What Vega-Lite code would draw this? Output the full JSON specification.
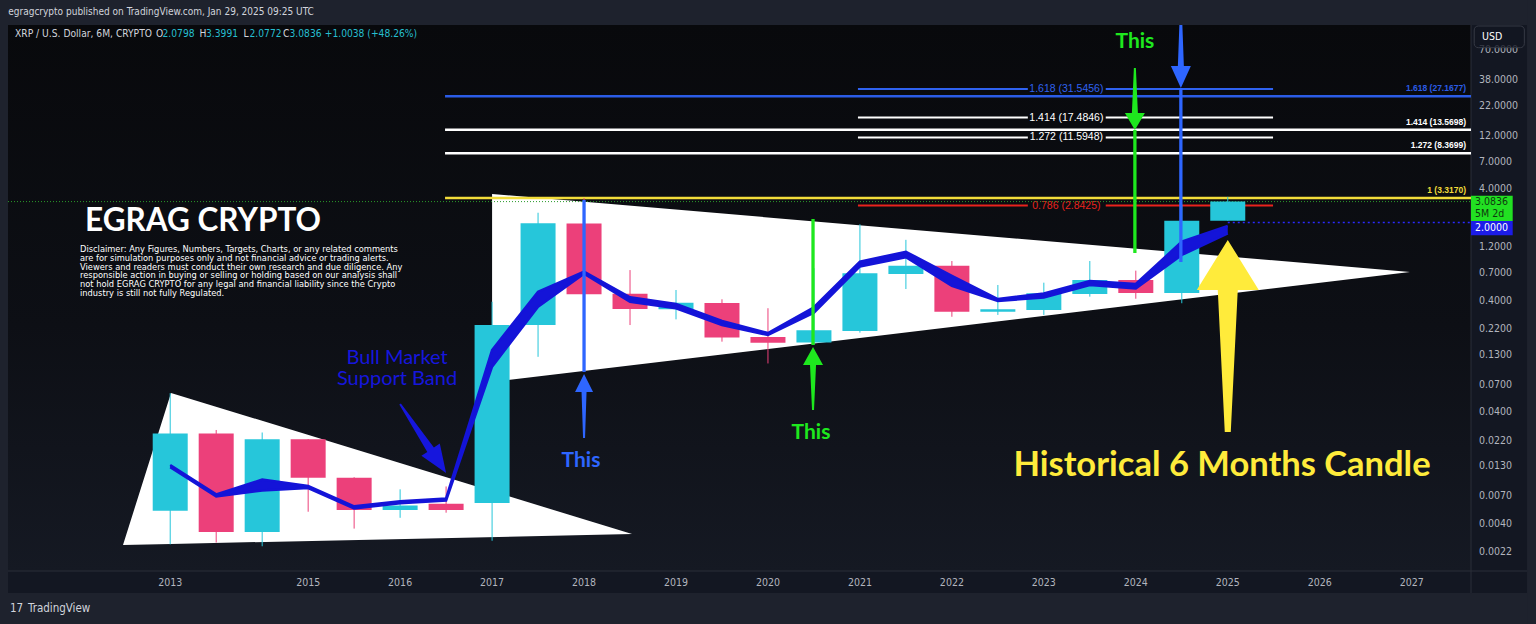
{
  "$schema": "https://vega.github.io/schema/vega-lite/v6.json",
  "width": 1463,
  "height": 546,
  "autosize": {"type": "none"},
  "padding": {"left": 8, "top": 25, "right": 65, "bottom": 53},
  "background": "#131722",
  "config": {"view": {"stroke": null}},
  "datasets": {
    "one": [{}],
    "candles": [
      {"bar": 1, "period": "2013 H2", "open": 0.0052, "high": 0.059, "low": 0.0026, "close": 0.0257, "band_hi": 0.0134, "band_lo": 0.0128},
      {"bar": 2, "period": "2014 H1", "open": 0.0257, "high": 0.0276, "low": 0.0027, "close": 0.00335, "band_hi": 0.0073, "band_lo": 0.007},
      {"bar": 3, "period": "2014 H2", "open": 0.00335, "high": 0.0262, "low": 0.0025, "close": 0.0228, "band_hi": 0.0099, "band_lo": 0.0079},
      {"bar": 4, "period": "2015 H1", "open": 0.0228, "high": 0.0229, "low": 0.0051, "close": 0.0103, "band_hi": 0.00868, "band_lo": 0.00833},
      {"bar": 5, "period": "2015 H2", "open": 0.0103, "high": 0.0104, "low": 0.0036, "close": 0.0053, "band_hi": 0.0057, "band_lo": 0.00546},
      {"bar": 6, "period": "2016 H1", "open": 0.0053, "high": 0.0081, "low": 0.0045, "close": 0.0058, "band_hi": 0.00634, "band_lo": 0.00609},
      {"bar": 7, "period": "2016 H2", "open": 0.006, "high": 0.0086, "low": 0.005, "close": 0.0053, "band_hi": 0.00671, "band_lo": 0.00643},
      {"bar": 8, "period": "2017 H1", "open": 0.0061, "high": 0.39, "low": 0.0028, "close": 0.241, "band_hi": 0.144, "band_lo": 0.102},
      {"bar": 9, "period": "2017 H2", "open": 0.241, "high": 2.45, "low": 0.125, "close": 1.97, "band_hi": 0.48, "band_lo": 0.352},
      {"bar": 10, "period": "2018 H1", "open": 1.96, "high": 3.317, "low": 0.43, "close": 0.455, "band_hi": 0.725, "band_lo": 0.696},
      {"bar": 11, "period": "2018 H2", "open": 0.46, "high": 0.75, "low": 0.241, "close": 0.336, "band_hi": 0.4275, "band_lo": 0.39},
      {"bar": 12, "period": "2019 H1", "open": 0.334, "high": 0.497, "low": 0.271, "close": 0.382, "band_hi": 0.372, "band_lo": 0.341},
      {"bar": 13, "period": "2019 H2", "open": 0.38, "high": 0.41, "low": 0.171, "close": 0.186, "band_hi": 0.262, "band_lo": 0.241},
      {"bar": 14, "period": "2020 H1", "open": 0.1885, "high": 0.341, "low": 0.109, "close": 0.167, "band_hi": 0.2044, "band_lo": 0.1962},
      {"bar": 15, "period": "2020 H2", "open": 0.168, "high": 0.78, "low": 0.16, "close": 0.216, "band_hi": 0.348, "band_lo": 0.311},
      {"bar": 16, "period": "2021 H1", "open": 0.213, "high": 1.93, "low": 0.206, "close": 0.702, "band_hi": 0.892, "band_lo": 0.808},
      {"bar": 17, "period": "2021 H2", "open": 0.69, "high": 1.4, "low": 0.507, "close": 0.821, "band_hi": 1.096, "band_lo": 0.977},
      {"bar": 18, "period": "2022 H1", "open": 0.82, "high": 0.904, "low": 0.286, "close": 0.3175, "band_hi": 0.664, "band_lo": 0.54},
      {"bar": 19, "period": "2022 H2", "open": 0.3175, "high": 0.551, "low": 0.297, "close": 0.334, "band_hi": 0.4127, "band_lo": 0.396},
      {"bar": 20, "period": "2023 H1", "open": 0.329, "high": 0.578, "low": 0.297, "close": 0.464, "band_hi": 0.462, "band_lo": 0.426},
      {"bar": 21, "period": "2023 H2", "open": 0.458, "high": 0.904, "low": 0.433, "close": 0.611, "band_hi": 0.599, "band_lo": 0.551},
      {"bar": 22, "period": "2024 H1", "open": 0.611, "high": 0.741, "low": 0.415, "close": 0.468, "band_hi": 0.562, "band_lo": 0.513},
      {"bar": 23, "period": "2024 H2", "open": 0.468, "high": 2.9, "low": 0.378, "close": 2.079, "band_hi": 1.348, "band_lo": 1.024},
      {"bar": 24, "period": "2025 H1", "open": 2.0798, "high": 3.3991, "low": 2.0772, "close": 3.0836, "band_hi": 1.864, "band_lo": 1.602}
    ],
    "price_ticks": [
      {"tick": 70}, {"tick": 38}, {"tick": 22}, {"tick": 12}, {"tick": 7}, {"tick": 4},
      {"tick": 1.2}, {"tick": 0.7}, {"tick": 0.4}, {"tick": 0.22}, {"tick": 0.13}, {"tick": 0.07},
      {"tick": 0.04}, {"tick": 0.022}, {"tick": 0.013}, {"tick": 0.007}, {"tick": 0.004}, {"tick": 0.0022}
    ],
    "year_ticks": [
      {"bar": 1, "year": "2013"}, {"bar": 4, "year": "2015"}, {"bar": 6, "year": "2016"}, {"bar": 8, "year": "2017"},
      {"bar": 10, "year": "2018"}, {"bar": 12, "year": "2019"}, {"bar": 14, "year": "2020"}, {"bar": 16, "year": "2021"},
      {"bar": 18, "year": "2022"}, {"bar": 20, "year": "2023"}, {"bar": 22, "year": "2024"}, {"bar": 24, "year": "2025"},
      {"bar": 26, "year": "2026"}, {"bar": 28, "year": "2027"}
    ],
    "wedge_2013": [
      {"i": -0.027, "top": 0.002567, "bottom": 0.002567},
      {"i": 1.017, "top": 0.05924, "bottom": 0.002623},
      {"i": 11.044, "top": 0.003221, "bottom": 0.003221}
    ],
    "wedge_2017": [
      {"i": 8.0, "top": 3.609, "bottom": 0.0743},
      {"i": 27.964, "top": 0.7208, "bottom": 0.7208}
    ],
    "fib_long": [
      {"level": "1.618 long", "price": 27.1677, "label": "1.618 (27.1677)", "start": 6.977, "end": 29.29},
      {"level": "1.414 long", "price": 13.5698, "label": "1.414 (13.5698)", "start": 6.977, "end": 29.29},
      {"level": "1.272 long", "price": 8.3699, "label": "1.272 (8.3699)", "start": 6.977, "end": 29.29},
      {"level": "1 long", "price": 3.317, "label": "1 (3.3170)", "start": 6.977, "end": 29.29}
    ],
    "fib_short": [
      {"level": "1.618", "price": 31.5456, "label": "1.618 (31.5456)", "start": 15.957, "gap_l": 19.652, "gap_r": 21.346, "end": 24.985},
      {"level": "1.414", "price": 17.4846, "label": "1.414 (17.4846)", "start": 15.957, "gap_l": 19.652, "gap_r": 21.346, "end": 24.985},
      {"level": "1.272", "price": 11.5948, "label": "1.272 (11.5948)", "start": 15.957, "gap_l": 19.652, "gap_r": 21.346, "end": 24.985},
      {"level": "0.786", "price": 2.8425, "label": "0.786 (2.8425)", "start": 15.957, "gap_l": 19.652, "gap_r": 21.346, "end": 24.985}
    ],
    "vlines": [
      {"ref": "this_2018", "i": 10.0, "top": 3.19, "bottom": 0.0914},
      {"ref": "this_2020", "i": 14.98, "top": 2.153, "bottom": 0.1596},
      {"ref": "this_2024_top", "i": 21.98, "top": 13.53, "bottom": 1.067},
      {"ref": "this_2024_blue", "i": 22.98, "top": 32.2, "bottom": 0.886}
    ],
    "arrows": [
      {"ref": "this_2018", "i": 10.0, "price": 0.0877},
      {"ref": "this_2020", "i": 14.98, "price": 0.1532},
      {"ref": "this_2024_top", "i": 21.98, "price": 13.53},
      {"ref": "this_2024_blue", "i": 22.98, "price": 32.2},
      {"ref": "historical", "i": 24.0, "price": 1.396},
      {"ref": "support_band", "i": 7.0, "price": 0.01135}
    ],
    "this_labels": [
      {"text": "This", "i": 9.934, "price": 0.01455, "ref": "this_2018"},
      {"text": "This", "i": 14.936, "price": 0.02594, "ref": "this_2020"},
      {"text": "This", "i": 21.98, "price": 83.3, "ref": "this_2024_top"}
    ],
    "headline": [
      {"text": "Historical 6 Months Candle", "i": 23.875, "price": 0.01311, "ref": "historical"}
    ],
    "band_label": [
      {"text": "Bull Market", "i": 5.933, "price": 0.122, "ref": "support_band"},
      {"text": "Support Band", "i": 5.933, "price": 0.0791, "ref": "support_band"}
    ],
    "brand": [{"text": "EGRAG CRYPTO", "i": -0.853, "price": 2.024}],
    "disclaimer": [{"text": "Disclaimer: Any Figures, Numbers, Targets, Charts, or any related comments\nare for simulation purposes only and not financial advice or trading alerts.\nViewers and readers must conduct their own research and due diligence. Any\nresponsible action in buying or selling or holding based on our analysis shall\nnot hold EGRAG CRYPTO for any legal and financial liability since the Crypto\nindustry is still not fully Regulated.", "i": -0.962, "price": 1.259}],
    "legend": [
      {"text": "XRP / U.S. Dollar, 6M, CRYPTO", "i": -2.375, "price": 98.3, "part": "label"},
      {"text": "O", "i": 0.691, "price": 98.3, "part": "label"},
      {"text": "2.0798", "i": 0.8325, "price": 98.3, "part": "value"},
      {"text": "H", "i": 1.637, "price": 98.3, "part": "label"},
      {"text": "3.3991", "i": 1.7786, "price": 98.3, "part": "value"},
      {"text": "L", "i": 2.594, "price": 98.3, "part": "label"},
      {"text": "2.0772", "i": 2.7247, "price": 98.3, "part": "value"},
      {"text": "C", "i": 3.453, "price": 98.3, "part": "label"},
      {"text": "3.0836", "i": 3.5946, "price": 98.3, "part": "value"},
      {"text": "+1.0038 (+48.26%)", "i": 4.36, "price": 98.3, "part": "value"}
    ],
    "header": [{"text": "egragcrypto published on TradingView.com, Jan 29, 2025 09:25 UTC", "i": -2.523, "price": 154.8}],
    "footer": [
      {"text": "17", "i": -2.484, "price": 0.000684, "part": "logo"},
      {"text": "TradingView", "i": -2.093, "price": 0.000684, "part": "name"}
    ],
    "tags": [
      {"text": "3.0836", "i": 29.378, "price": 3.058, "part": "last"},
      {"text": "5M 2d", "i": 29.378, "price": 2.388, "part": "last"},
      {"text": "2.0000", "i": 29.378, "price": 1.77, "part": "support"},
      {"text": "USD", "i": 29.53, "price": 92.4, "part": "button"}
    ]
  },
  "layer": [
    {
      "data": {"name": "candles"},
      "mark": {"type": "rule", "opacity": 0},
      "encoding": {
        "x": {"field": "bar", "type": "quantitative", "scale": {"domain": [-2.528, 29.29], "nice": false, "zero": false, "padding": 0}, "axis": null},
        "y": {"field": "low", "type": "quantitative", "scale": {"type": "log", "domain": [0.0015, 118.3], "nice": false}, "axis": null}
      }
    },
    {
      "data": {"name": "one"},
      "mark": {"type": "rect", "color": {"gradient": "linear", "x1": 0, "y1": 0, "x2": 0, "y2": 1, "stops": [{"offset": 0, "color": "#08090c"}, {"offset": 0.55, "color": "#0d0f15"}, {"offset": 1, "color": "#151923"}]}},
      "encoding": {
        "x": {"datum": -2.528, "type": "quantitative", "axis": null},
        "x2": {"datum": 29.29},
        "y": {"datum": 118.3, "type": "quantitative", "axis": null},
        "y2": {"datum": 0.0015}
      }
    },
    {
      "data": {"name": "one"},
      "mark": {"type": "rect", "color": "#1e222d"},
      "encoding": {
        "x": {"datum": -2.75, "type": "quantitative", "axis": null},
        "x2": {"datum": 30.8},
        "y": {"datum": 230, "type": "quantitative", "axis": null},
        "y2": {"datum": 118.3}
      }
    },
    {
      "data": {"name": "one"},
      "mark": {"type": "rect", "color": "#1e222d"},
      "encoding": {
        "x": {"datum": -2.75, "type": "quantitative", "axis": null},
        "x2": {"datum": 30.8},
        "y": {"datum": 0.000952, "type": "quantitative", "axis": null},
        "y2": {"datum": 0.0003}
      }
    },
    {
      "data": {"name": "one"},
      "mark": {"type": "rect", "color": "#1e222d"},
      "encoding": {
        "x": {"datum": -2.75, "type": "quantitative", "axis": null},
        "x2": {"datum": -2.528},
        "y": {"datum": 230, "type": "quantitative", "axis": null},
        "y2": {"datum": 0.0003}
      }
    },
    {
      "data": {"name": "one"},
      "mark": {"type": "rect", "color": "#1e222d"},
      "encoding": {
        "x": {"datum": 30.508, "type": "quantitative", "axis": null},
        "x2": {"datum": 30.8},
        "y": {"datum": 230, "type": "quantitative", "axis": null},
        "y2": {"datum": 0.0003}
      }
    },
    {
      "data": {"name": "one"},
      "mark": {"type": "rule", "color": "#2a2e39", "strokeWidth": 1},
      "encoding": {
        "x": {"datum": -2.528, "type": "quantitative", "axis": null},
        "x2": {"datum": 30.508},
        "y": {"datum": 0.0015, "type": "quantitative", "axis": null}
      }
    },
    {
      "data": {"name": "one"},
      "mark": {"type": "rule", "color": "#2a2e39", "strokeWidth": 1},
      "encoding": {
        "x": {"datum": 29.29, "type": "quantitative", "axis": null},
        "y": {"datum": 118.3, "type": "quantitative", "axis": null},
        "y2": {"datum": 0.000952}
      }
    },
    {
      "data": {"name": "price_ticks"},
      "mark": {"type": "text", "align": "left", "baseline": "middle", "fontSize": 10.5, "font": "Liberation Sans Narrow, DejaVu Sans Condensed, Liberation Sans", "color": "#b2b5be"},
      "encoding": {
        "x": {"datum": 29.465, "type": "quantitative", "axis": null},
        "y": {"field": "tick", "type": "quantitative", "axis": null},
        "text": {"field": "tick", "type": "quantitative", "format": ".4f"}
      }
    },
    {
      "data": {"name": "year_ticks"},
      "mark": {"type": "text", "align": "center", "baseline": "middle", "fontSize": 10.5, "font": "Liberation Sans Narrow, DejaVu Sans Condensed, Liberation Sans", "color": "#b2b5be"},
      "encoding": {
        "x": {"field": "bar", "type": "quantitative", "axis": null},
        "y": {"datum": 0.001171, "type": "quantitative", "axis": null},
        "text": {"field": "year"}
      }
    },
    {
      "data": {"name": "wedge_2013"},
      "mark": {"type": "area", "color": "#ffffff", "opacity": 1, "interpolate": "linear"},
      "encoding": {
        "x": {"field": "i", "type": "quantitative", "axis": null},
        "y": {"field": "top", "type": "quantitative", "axis": null},
        "y2": {"field": "bottom"}
      }
    },
    {
      "data": {"name": "wedge_2017"},
      "mark": {"type": "area", "color": "#ffffff", "opacity": 1, "interpolate": "linear"},
      "encoding": {
        "x": {"field": "i", "type": "quantitative", "axis": null},
        "y": {"field": "top", "type": "quantitative", "axis": null},
        "y2": {"field": "bottom"}
      }
    },
    {
      "data": {"name": "fib_long"},
      "mark": {"type": "rule", "strokeWidth": 2.5},
      "encoding": {
        "x": {"field": "start", "type": "quantitative", "axis": null},
        "x2": {"field": "end"},
        "y": {"field": "price", "type": "quantitative", "axis": null},
        "color": {"field": "level", "type": "nominal", "legend": null, "scale": {"domain": ["1.618 long", "1.414 long", "1.272 long", "1 long", "1.618", "1.414", "1.272", "0.786", "this_2018", "this_2020", "this_2024_top", "this_2024_blue", "historical", "support_band"], "range": ["#2b5ce6", "#ffffff", "#ffffff", "#f2dc3a", "#2f62f0", "#ffffff", "#ffffff", "#e8231c", "#2e66ff", "#1ee81e", "#1ee81e", "#2e66ff", "#ffeb3b", "#1616dd"]}}
      }
    },
    {
      "data": {"name": "fib_long"},
      "mark": {"type": "text", "align": "right", "baseline": "middle", "dy": -8, "fontSize": 8.5, "fontWeight": "bold", "font": "Liberation Sans"},
      "encoding": {
        "x": {"datum": 29.181, "type": "quantitative", "axis": null},
        "y": {"field": "price", "type": "quantitative", "axis": null},
        "text": {"field": "label"},
        "color": {"field": "level", "type": "nominal", "legend": null}
      }
    },
    {
      "data": {"name": "fib_short"},
      "mark": {"type": "rule", "strokeWidth": 2},
      "encoding": {
        "x": {"field": "start", "type": "quantitative", "axis": null},
        "x2": {"field": "gap_l"},
        "y": {"field": "price", "type": "quantitative", "axis": null},
        "color": {"field": "level", "type": "nominal", "legend": null}
      }
    },
    {
      "data": {"name": "fib_short"},
      "mark": {"type": "rule", "strokeWidth": 2},
      "encoding": {
        "x": {"field": "gap_r", "type": "quantitative", "axis": null},
        "x2": {"field": "end"},
        "y": {"field": "price", "type": "quantitative", "axis": null},
        "color": {"field": "level", "type": "nominal", "legend": null}
      }
    },
    {
      "data": {"name": "fib_short"},
      "mark": {"type": "text", "align": "center", "baseline": "middle", "fontSize": 10.5, "font": "Liberation Sans"},
      "encoding": {
        "x": {"datum": 20.49, "type": "quantitative", "axis": null},
        "y": {"field": "price", "type": "quantitative", "axis": null},
        "text": {"field": "label"},
        "color": {"field": "level", "type": "nominal", "legend": null}
      }
    },
    {
      "data": {"name": "one"},
      "mark": {"type": "rule", "color": "#2a9a2a", "strokeWidth": 1, "strokeDash": [1, 2]},
      "encoding": {
        "x": {"datum": -2.528, "type": "quantitative", "axis": null},
        "x2": {"datum": 29.29},
        "y": {"datum": 3.0836, "type": "quantitative", "axis": null}
      }
    },
    {
      "data": {"name": "one"},
      "mark": {"type": "rule", "color": "#2a2aff", "strokeWidth": 1.5, "strokeDash": [2, 3]},
      "encoding": {
        "x": {"datum": 24.0, "type": "quantitative", "axis": null},
        "x2": {"datum": 29.29},
        "y": {"datum": 2.0, "type": "quantitative", "axis": null}
      }
    },
    {
      "data": {"name": "candles"},
      "mark": {"type": "rule", "strokeWidth": 1},
      "encoding": {
        "x": {"field": "bar", "type": "quantitative", "axis": null},
        "y": {"field": "low", "type": "quantitative", "axis": null},
        "y2": {"field": "high"},
        "color": {"condition": {"test": "datum.close >= datum.open", "value": "#26c6da"}, "value": "#ec407a"}
      }
    },
    {
      "data": {"name": "candles"},
      "mark": {"type": "bar", "width": 35},
      "encoding": {
        "x": {"field": "bar", "type": "quantitative", "axis": null},
        "y": {"field": "open", "type": "quantitative", "axis": null},
        "y2": {"field": "close"},
        "color": {"condition": {"test": "datum.close >= datum.open", "value": "#26c6da"}, "value": "#ec407a"}
      }
    },
    {
      "data": {"name": "candles"},
      "mark": {"type": "area", "color": "#1414d8", "opacity": 1},
      "encoding": {
        "x": {"field": "bar", "type": "quantitative", "axis": null},
        "y": {"field": "band_hi", "type": "quantitative", "axis": null},
        "y2": {"field": "band_lo"}
      }
    },
    {
      "data": {"name": "candles"},
      "mark": {"type": "line", "color": "#1414d8", "strokeWidth": 2.5},
      "encoding": {
        "x": {"field": "bar", "type": "quantitative", "axis": null},
        "y": {"field": "band_hi", "type": "quantitative", "axis": null}
      }
    },
    {
      "data": {"name": "candles"},
      "mark": {"type": "line", "color": "#1414d8", "strokeWidth": 2.5},
      "encoding": {
        "x": {"field": "bar", "type": "quantitative", "axis": null},
        "y": {"field": "band_lo", "type": "quantitative", "axis": null}
      }
    },
    {
      "data": {"name": "vlines"},
      "mark": {"type": "rule", "strokeWidth": 3.3},
      "encoding": {
        "x": {"field": "i", "type": "quantitative", "axis": null},
        "y": {"field": "top", "type": "quantitative", "axis": null},
        "y2": {"field": "bottom"},
        "color": {"field": "ref", "type": "nominal", "legend": null}
      }
    },
    {
      "data": {"name": "arrows"},
      "mark": {"type": "point", "filled": true, "opacity": 1, "strokeWidth": 0, "size": 4},
      "encoding": {
        "x": {"field": "i", "type": "quantitative", "axis": null},
        "y": {"field": "price", "type": "quantitative", "axis": null},
        "shape": {"field": "ref", "type": "nominal", "legend": null, "scale": {"domain": ["this_2018", "this_2020", "this_2024_top", "this_2024_blue", "historical", "support_band"], "range": ["M0,0L9,18L2.5,18L1,64L-1,64L-2.5,18L-9,18Z", "M0,0L10,18L3,18L1,63L-1,63L-3,18L-10,18Z", "M0,0L-10,-17L-3,-17L-1,-62L1,-62L3,-17L10,-17Z", "M0,0L-10,-22L-3,-22L-1.5,-63L1.5,-63L3,-22L10,-22Z", "M0,0L31,50L10,50L3,192L-3,192L-10,50L-31,50Z", "M0,0L-24.7,-17.2L-18.8,-21.1L-46.8,-68.4L-45.2,-69.6L-12.2,-25.5L-6.3,-29.4Z"]}},
        "color": {"field": "ref", "type": "nominal", "legend": null}
      }
    },
    {
      "data": {"name": "this_labels"},
      "mark": {"type": "text", "align": "center", "baseline": "middle", "fontSize": 21, "fontWeight": "bold", "font": "Lato"},
      "encoding": {
        "x": {"field": "i", "type": "quantitative", "axis": null},
        "y": {"field": "price", "type": "quantitative", "axis": null},
        "text": {"field": "text"},
        "color": {"field": "ref", "type": "nominal", "legend": null}
      }
    },
    {
      "data": {"name": "headline"},
      "mark": {"type": "text", "align": "center", "baseline": "middle", "fontSize": 34.5, "fontWeight": "bold", "font": "Lato"},
      "encoding": {
        "x": {"field": "i", "type": "quantitative", "axis": null},
        "y": {"field": "price", "type": "quantitative", "axis": null},
        "text": {"field": "text"},
        "color": {"field": "ref", "type": "nominal", "legend": null}
      }
    },
    {
      "data": {"name": "band_label"},
      "mark": {"type": "text", "align": "center", "baseline": "middle", "fontSize": 20, "font": "Lato"},
      "encoding": {
        "x": {"field": "i", "type": "quantitative", "axis": null},
        "y": {"field": "price", "type": "quantitative", "axis": null},
        "text": {"field": "text"},
        "color": {"field": "ref", "type": "nominal", "legend": null}
      }
    },
    {
      "data": {"name": "brand"},
      "mark": {"type": "text", "align": "left", "baseline": "middle", "fontSize": 31.5, "fontWeight": "bold", "font": "Lato", "color": "#ffffff"},
      "encoding": {
        "x": {"field": "i", "type": "quantitative", "axis": null},
        "y": {"field": "price", "type": "quantitative", "axis": null},
        "text": {"field": "text"}
      }
    },
    {
      "data": {"name": "disclaimer"},
      "mark": {"type": "text", "align": "left", "baseline": "top", "fontSize": 8.3, "lineHeight": 8.8, "lineBreak": "\n", "font": "DejaVu Sans", "color": "#ffffff"},
      "encoding": {
        "x": {"field": "i", "type": "quantitative", "axis": null},
        "y": {"field": "price", "type": "quantitative", "axis": null},
        "text": {"field": "text"}
      }
    },
    {
      "data": {"name": "one"},
      "mark": {"type": "rect", "color": "#22e022"},
      "encoding": {
        "x": {"datum": 29.29, "type": "quantitative", "axis": null},
        "x2": {"datum": 30.197},
        "y": {"datum": 3.484, "type": "quantitative", "axis": null},
        "y2": {"datum": 2.066}
      }
    },
    {
      "data": {"name": "one"},
      "mark": {"type": "rect", "color": "#1c1ce8"},
      "encoding": {
        "x": {"datum": 29.29, "type": "quantitative", "axis": null},
        "x2": {"datum": 30.197},
        "y": {"datum": 2.066, "type": "quantitative", "axis": null},
        "y2": {"datum": 1.538}
      }
    },
    {
      "data": {"name": "one"},
      "mark": {"type": "rect", "fill": "#131722", "fillOpacity": 0.8, "stroke": "#363a45", "strokeWidth": 1, "cornerRadius": 4},
      "encoding": {
        "x": {"datum": 29.36, "type": "quantitative", "axis": null},
        "x2": {"datum": 30.45},
        "y": {"datum": 115.9, "type": "quantitative", "axis": null},
        "y2": {"datum": 74.06}
      }
    },
    {
      "data": {"name": "tags"},
      "transform": [{"filter": "datum.part == 'last'"}],
      "mark": {"type": "text", "align": "left", "baseline": "middle", "fontSize": 10.5, "font": "Liberation Sans Narrow, DejaVu Sans Condensed, Liberation Sans", "color": "#0f3a0f"},
      "encoding": {
        "x": {"field": "i", "type": "quantitative", "axis": null},
        "y": {"field": "price", "type": "quantitative", "axis": null},
        "text": {"field": "text"}
      }
    },
    {
      "data": {"name": "tags"},
      "transform": [{"filter": "datum.part != 'last'"}],
      "mark": {"type": "text", "align": "left", "baseline": "middle", "fontSize": 10.5, "font": "Liberation Sans Narrow, DejaVu Sans Condensed, Liberation Sans", "color": "#ffffff"},
      "encoding": {
        "x": {"field": "i", "type": "quantitative", "axis": null},
        "y": {"field": "price", "type": "quantitative", "axis": null},
        "text": {"field": "text"}
      }
    },
    {
      "data": {"name": "header"},
      "mark": {"type": "text", "align": "left", "baseline": "middle", "fontSize": 10, "font": "Liberation Sans Narrow, DejaVu Sans Condensed, Liberation Sans", "color": "#d1d4dc"},
      "encoding": {
        "x": {"field": "i", "type": "quantitative", "axis": null},
        "y": {"field": "price", "type": "quantitative", "axis": null},
        "text": {"field": "text"}
      }
    },
    {
      "data": {"name": "legend"},
      "transform": [{"filter": "datum.part == 'label'"}],
      "mark": {"type": "text", "align": "left", "baseline": "middle", "fontSize": 10.2, "font": "Liberation Sans Narrow, DejaVu Sans Condensed, Liberation Sans", "color": "#d1d4dc"},
      "encoding": {
        "x": {"field": "i", "type": "quantitative", "axis": null},
        "y": {"field": "price", "type": "quantitative", "axis": null},
        "text": {"field": "text"}
      }
    },
    {
      "data": {"name": "legend"},
      "transform": [{"filter": "datum.part == 'value'"}],
      "mark": {"type": "text", "align": "left", "baseline": "middle", "fontSize": 10.2, "font": "Liberation Sans Narrow, DejaVu Sans Condensed, Liberation Sans", "color": "#26bfd0"},
      "encoding": {
        "x": {"field": "i", "type": "quantitative", "axis": null},
        "y": {"field": "price", "type": "quantitative", "axis": null},
        "text": {"field": "text"}
      }
    },
    {
      "data": {"name": "footer"},
      "mark": {"type": "text", "align": "left", "baseline": "middle", "fontSize": 11.5, "font": "Liberation Sans Narrow, DejaVu Sans Condensed, Liberation Sans", "color": "#d1d4dc"},
      "encoding": {
        "x": {"field": "i", "type": "quantitative", "axis": null},
        "y": {"field": "price", "type": "quantitative", "axis": null},
        "text": {"field": "text"},
        "fontWeight": {"condition": {"test": "datum.part == 'logo'", "value": "bold"}, "value": "normal"}
      }
    }
  ]
}
